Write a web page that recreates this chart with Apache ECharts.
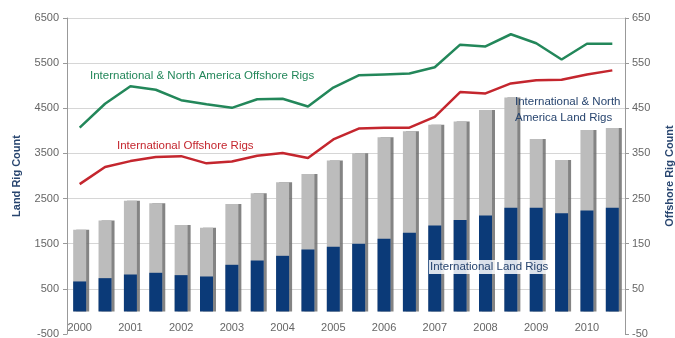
<!DOCTYPE html>
<html>
<head>
<meta charset="utf-8">
<script src="https://cdn.jsdelivr.net/npm/echarts@6/dist/echarts.min.js"></script>
<style>
  html, body { margin: 0; padding: 0; background: #fff; }
  #chart { width: 675px; height: 338px; }
</style>
</head>
<body>
<div id="chart"></div>
<script>
// Half-year periods, 2000 through 2010
const periods = ['2000', '2000H2', '2001', '2001H2', '2002', '2002H2', '2003', '2003H2',
  '2004', '2004H2', '2005', '2005H2', '2006', '2006H2', '2007', '2007H2',
  '2008', '2008H2', '2009', '2009H2', '2010', '2010H2'];

// Land rigs (left axis)
const totalLandRigs = [1808, 2013, 2450, 2396, 1917, 1851, 2382, 2617, 2861, 3046, 3341,
  3502, 3856, 3989, 4137, 4210, 4462, 4741, 3821, 3356, 4020, 4064];
const intlLandRigs = [664, 737, 818, 856, 804, 774, 1033, 1128, 1232, 1372, 1431,
  1497, 1608, 1741, 1903, 2028, 2124, 2294, 2294, 2175, 2235, 2294];

// Offshore rigs (right axis)
const totalOffshoreRigs = [407, 460, 499, 491, 468, 459, 451, 470, 471, 454, 496,
  523, 525, 527, 541, 591, 587, 614, 594, 558, 593, 593];
const intlOffshoreRigs = [282, 320, 333, 342, 344, 328, 332, 345, 351, 340, 381,
  405, 407, 407, 431, 486, 483, 505, 512, 513, 525, 534];

const FONT = '"Liberation Sans", Arial, sans-serif';
const NAVY = '#0b3a78';
const GREEN = '#23875a';
const RED = '#c4262e';
const GREY = '#bcbcbc';

const chart = echarts.init(document.getElementById('chart'));

const axisLabelStyle = { color: '#666', fontSize: 11, fontFamily: FONT };
const plainNumber = v => String(v);

chart.setOption({
  animation: false,
  backgroundColor: '#fff',
  grid: { left: 67, right: 50, top: 18, bottom: 4, containLabel: false, outerBoundsMode: 'none' },
  xAxis: {
    type: 'category',
    data: periods,
    boundaryGap: true,
    axisLine: { show: false, onZero: false },
    axisTick: { show: false },
    axisLabel: {
      ...axisLabelStyle,
      inside: true,
      interval: 1,
      margin: 1,
      formatter: v => v.length === 4 ? v : ''
    }
  },
  yAxis: [
    {
      type: 'value',
      min: -500, max: 6500, interval: 1000,
      name: 'Land Rig Count',
      nameLocation: 'middle',
      nameRotate: 90,
      nameGap: 45,
      nameTextStyle: { color: '#28456f', fontSize: 11, fontWeight: 'bold', fontFamily: FONT },
      axisLine: { show: true, lineStyle: { color: '#999' } },
      axisTick: { show: true, length: 4, lineStyle: { color: '#999' } },
      axisLabel: { ...axisLabelStyle, margin: 8, formatter: plainNumber },
      splitLine: { showMinLine: false, lineStyle: { color: '#d6d6d6', width: 1 } }
    },
    {
      type: 'value',
      min: -50, max: 650, interval: 100,
      name: 'Offshore Rig Count',
      nameLocation: 'middle',
      nameRotate: 90,
      nameGap: 39,
      nameTextStyle: { color: '#28456f', fontSize: 11, fontWeight: 'bold', fontFamily: FONT },
      axisLine: { show: true, lineStyle: { color: '#999' } },
      axisTick: { show: true, length: 4, lineStyle: { color: '#999' } },
      axisLabel: { ...axisLabelStyle, margin: 7, formatter: plainNumber },
      splitLine: { show: false }
    }
  ],
  series: [
    {
      name: 'International & North America Land Rigs',
      type: 'bar',
      data: totalLandRigs,
      barWidth: 13,
      barGap: '-100%',
      itemStyle: {
        color: GREY,
        shadowColor: 'rgba(110,110,110,0.85)',
        shadowOffsetX: 3,
        shadowOffsetY: 0,
        shadowBlur: 0
      },
      z: 2
    },
    {
      name: 'International Land Rigs',
      type: 'bar',
      data: intlLandRigs,
      barWidth: 13,
      barGap: '-100%',
      itemStyle: { color: NAVY },
      z: 3
    },
    {
      name: 'International & North America Offshore Rigs',
      type: 'line',
      yAxisIndex: 1,
      data: totalOffshoreRigs,
      symbol: 'none',
      lineStyle: { color: GREEN, width: 2.5 },
      z: 4
    },
    {
      name: 'International Offshore Rigs',
      type: 'line',
      yAxisIndex: 1,
      data: intlOffshoreRigs,
      symbol: 'none',
      lineStyle: { color: RED, width: 2.5 },
      z: 4
    }
  ],
  graphic: [
    {
      type: 'text', left: 90, top: 70, z: 10,
      style: { text: 'International & North America Offshore Rigs', fill: GREEN,
        font: '11.5px ' + FONT }
    },
    {
      type: 'text', left: 117, top: 140, z: 10,
      style: { text: 'International Offshore Rigs', fill: RED, font: '11.5px ' + FONT }
    },
    {
      type: 'text', left: 515, top: 94, z: 10,
      style: { text: 'International & North\nAmerica Land Rigs', fill: '#28456f',
        font: '11.5px ' + FONT, lineHeight: 16 }
    },
    {
      type: 'text', left: 429, top: 260, z: 10,
      style: { text: 'International Land Rigs', fill: '#28456f', font: '11.5px ' + FONT,
        backgroundColor: 'rgba(255,255,255,0.85)', padding: [1, 1] }
    }
  ]
});
</script>
</body>
</html>
